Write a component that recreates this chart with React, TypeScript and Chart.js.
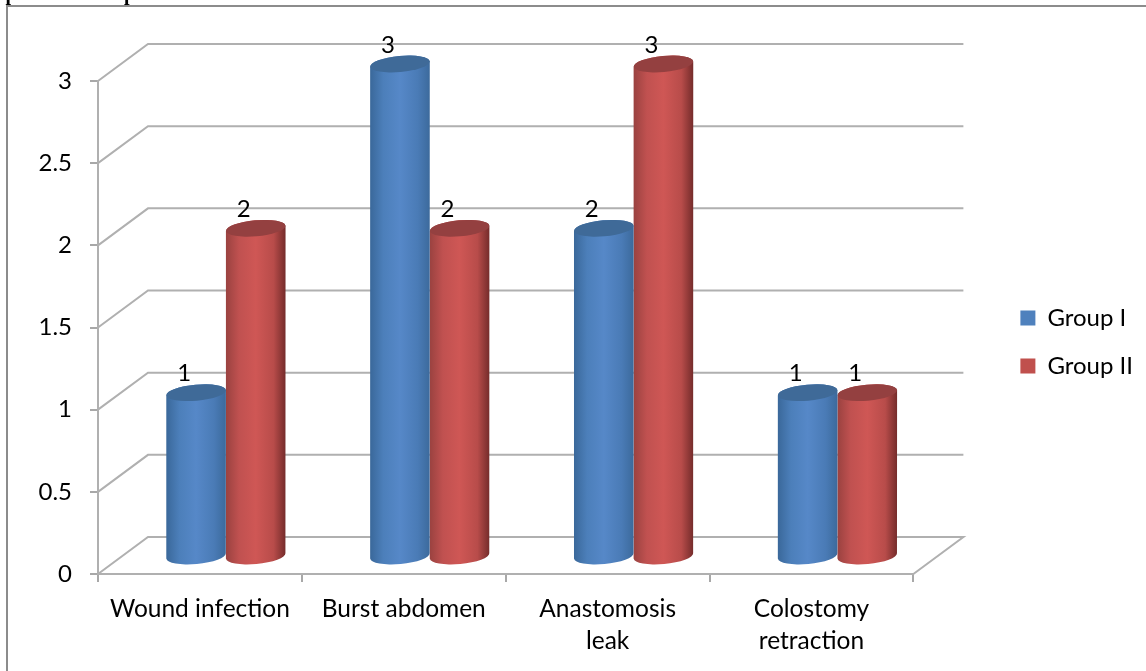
import React, { useEffect, useRef } from "react";
import { Chart, registerables } from "chart.js";

Chart.register(...registerables);

const categories: (string | string[])[] = ["Wound infection", "Burst abdomen", ["Anastomosis", "leak"], ["Colostomy", "retraction"]];
const groupOne = [1, 3, 2, 1];
const groupTwo = [2, 2, 3, 1];
const yTicks = [0, 0.5, 1, 1.5, 2, 2.5, 3];

const FONT = "Lato, sans-serif";
const GRID = "#b0b0b0";
const DEPTH_X = 50;
const DEPTH_Y = 37;
const BAR_DX = 26;
const BAR_DY = 17;
const RY = 8;
const TILT = -0.09;

const shades = [
  { stops: ["#3a689a", "#4c7fba", "#5688c8", "#4a7bb6", "#3c6a9c"], top: "#3f6a98" },
  { stops: ["#9a4240", "#c05150", "#cf5755", "#b84c4a", "#752c2b"], top: "#944040" },
];

function cylinder(ctx: CanvasRenderingContext2D, x: number, yTop: number, yBase: number, w: number, s: { stops: string[]; top: string }) {
  const rx = w / 2;
  const g = ctx.createLinearGradient(x - rx, 0, x + rx, 0);
  s.stops.forEach((c, i) => g.addColorStop([0, 0.22, 0.5, 0.8, 1][i], c));
  const dy = Math.sin(TILT) * rx;
  ctx.beginPath();
  ctx.moveTo(x - rx, yTop - dy);
  ctx.lineTo(x - rx, yBase - dy);
  ctx.ellipse(x, yBase, rx, RY, TILT, Math.PI, 0, true);
  ctx.lineTo(x + rx, yTop + dy);
  ctx.ellipse(x, yTop, rx, RY, TILT, 0, Math.PI, true);
  ctx.closePath();
  ctx.fillStyle = g;
  ctx.fill();
  ctx.beginPath();
  ctx.ellipse(x, yTop, rx, RY, TILT, 0, Math.PI * 2);
  ctx.fillStyle = s.top;
  ctx.fill();
}

const wallPlugin = {
  id: "wall",
  afterLayout(chart: any) {
    chart.legend.left -= 3;
  },
  beforeDatasetsDraw(chart: any) {
    const { ctx, chartArea: a, scales } = chart;
    const y = scales.y;
    ctx.save();
    ctx.fillStyle = "#000";
    ctx.font = "bold 20px 'Liberation Serif'";
    ctx.textBaseline = "alphabetic";
    ctx.fillText("Graph", -29, 0);
    ctx.fillText("Comparison of treatment outcome", 83, 0);
    ctx.strokeStyle = "#8c8c8c";
    ctx.lineWidth = 2;
    ctx.beginPath();
    ctx.moveTo(7, 671);
    ctx.lineTo(7, 6);
    ctx.lineTo(1146, 6);
    ctx.stroke();
    ctx.strokeStyle = GRID;
    ctx.lineWidth = 2;
    yTicks.forEach((t) => {
      const py = y.getPixelForValue(t);
      ctx.beginPath();
      ctx.moveTo(a.left, py);
      ctx.lineTo(a.left + DEPTH_X, py - DEPTH_Y);
      ctx.lineTo(a.right + DEPTH_X, py - DEPTH_Y);
      if (t === 0) ctx.lineTo(a.right, py);
      ctx.stroke();
    });
    ctx.restore();
  },
  beforeDatasetDraw(chart: any, args: any) {
    const { ctx } = chart;
    const meta = chart.getDatasetMeta(args.index);
    ctx.save();
    meta.data.forEach((el: any) => {
      const p = el.getProps(["x", "y", "base", "width"], true);
      cylinder(ctx, p.x + BAR_DX, p.y - BAR_DY, p.base - BAR_DY, p.width, shades[args.index]);
    });
    ctx.restore();
    return false;
  },
  afterDatasetsDraw(chart: any) {
    const { ctx } = chart;
    ctx.save();
    ctx.fillStyle = "#000";
    ctx.font = `24px ${FONT}`;
    ctx.textAlign = "center";
    ctx.textBaseline = "middle";
    chart.data.datasets.forEach((ds: any, i: number) => {
      chart.getDatasetMeta(i).data.forEach((el: any, j: number) => {
        ctx.fillText(String(ds.data[j]), el.x + 14, el.y - 36);
      });
    });
    ctx.restore();
  },
};

export default function App() {
  const ref = useRef<HTMLCanvasElement>(null);
  useEffect(() => {
    const chart = new Chart(ref.current!, {
      type: "bar",
      data: {
        labels: categories as any,
        datasets: [
          { label: "Group I", data: groupOne, backgroundColor: "#4f81bd", borderWidth: 0 },
          { label: "Group II", data: groupTwo, backgroundColor: "#c0504d", borderWidth: 0 },
        ],
      },
      plugins: [wallPlugin],
      options: {
        animation: false,
        responsive: false,
        layout: { padding: { top: 13, right: 0, bottom: 0, left: 0 } },
        datasets: { bar: { categoryPercentage: 0.585, barPercentage: 1 } },
        scales: {
          x: {
            grid: { drawOnChartArea: false, drawTicks: true, tickLength: 8, color: "#a8a8a8", lineWidth: 2 },
            border: { color: GRID, width: 2 },
            ticks: { font: { family: FONT, size: 24.5, lineHeight: 1.3 }, color: "#000", padding: 11, maxRotation: 0, autoSkip: false },
            afterFit: (s: any) => { s.height = 97; },
          },
          xTop: {
            type: "category", position: "top", display: true,
            grid: { display: false }, border: { display: false }, ticks: { display: false },
            afterFit: (s: any) => { s.height = 68; },
          },
          y: {
            min: 0, max: 3,
            afterBuildTicks: (s: any) => { s.ticks = yTicks.map((value) => ({ value })); },
            grid: { drawOnChartArea: false, drawTicks: true, tickLength: 8, color: "#a8a8a8", lineWidth: 2 },
            border: { color: GRID, width: 2 },
            ticks: { font: { family: FONT, size: 24 }, color: "#000", padding: 18, callback: (v: any) => String(v) },
            afterFit: (s: any) => { s.width = 98; },
          },
          yGap: {
            type: "linear", position: "right", display: true,
            grid: { display: false }, border: { display: false }, ticks: { display: false },
            afterFit: (s: any) => { s.width = 86; },
          },
        },
        plugins: {
          legend: {
            position: "right",
            labels: { boxWidth: 15, boxHeight: 15, padding: 24, color: "#000", font: { family: FONT, size: 24 } },
          },
          tooltip: { enabled: false },
        },
      } as any,
    });
    return () => chart.destroy();
  }, []);
  return (
    <div style={{ position: "fixed", left: 0, top: 0, width: 1146, height: 671, background: "#fff" }}>
      <canvas ref={ref} width={1146} height={671} style={{ display: "block", filter: "blur(0.5px)" }} />
    </div>
  );
}
